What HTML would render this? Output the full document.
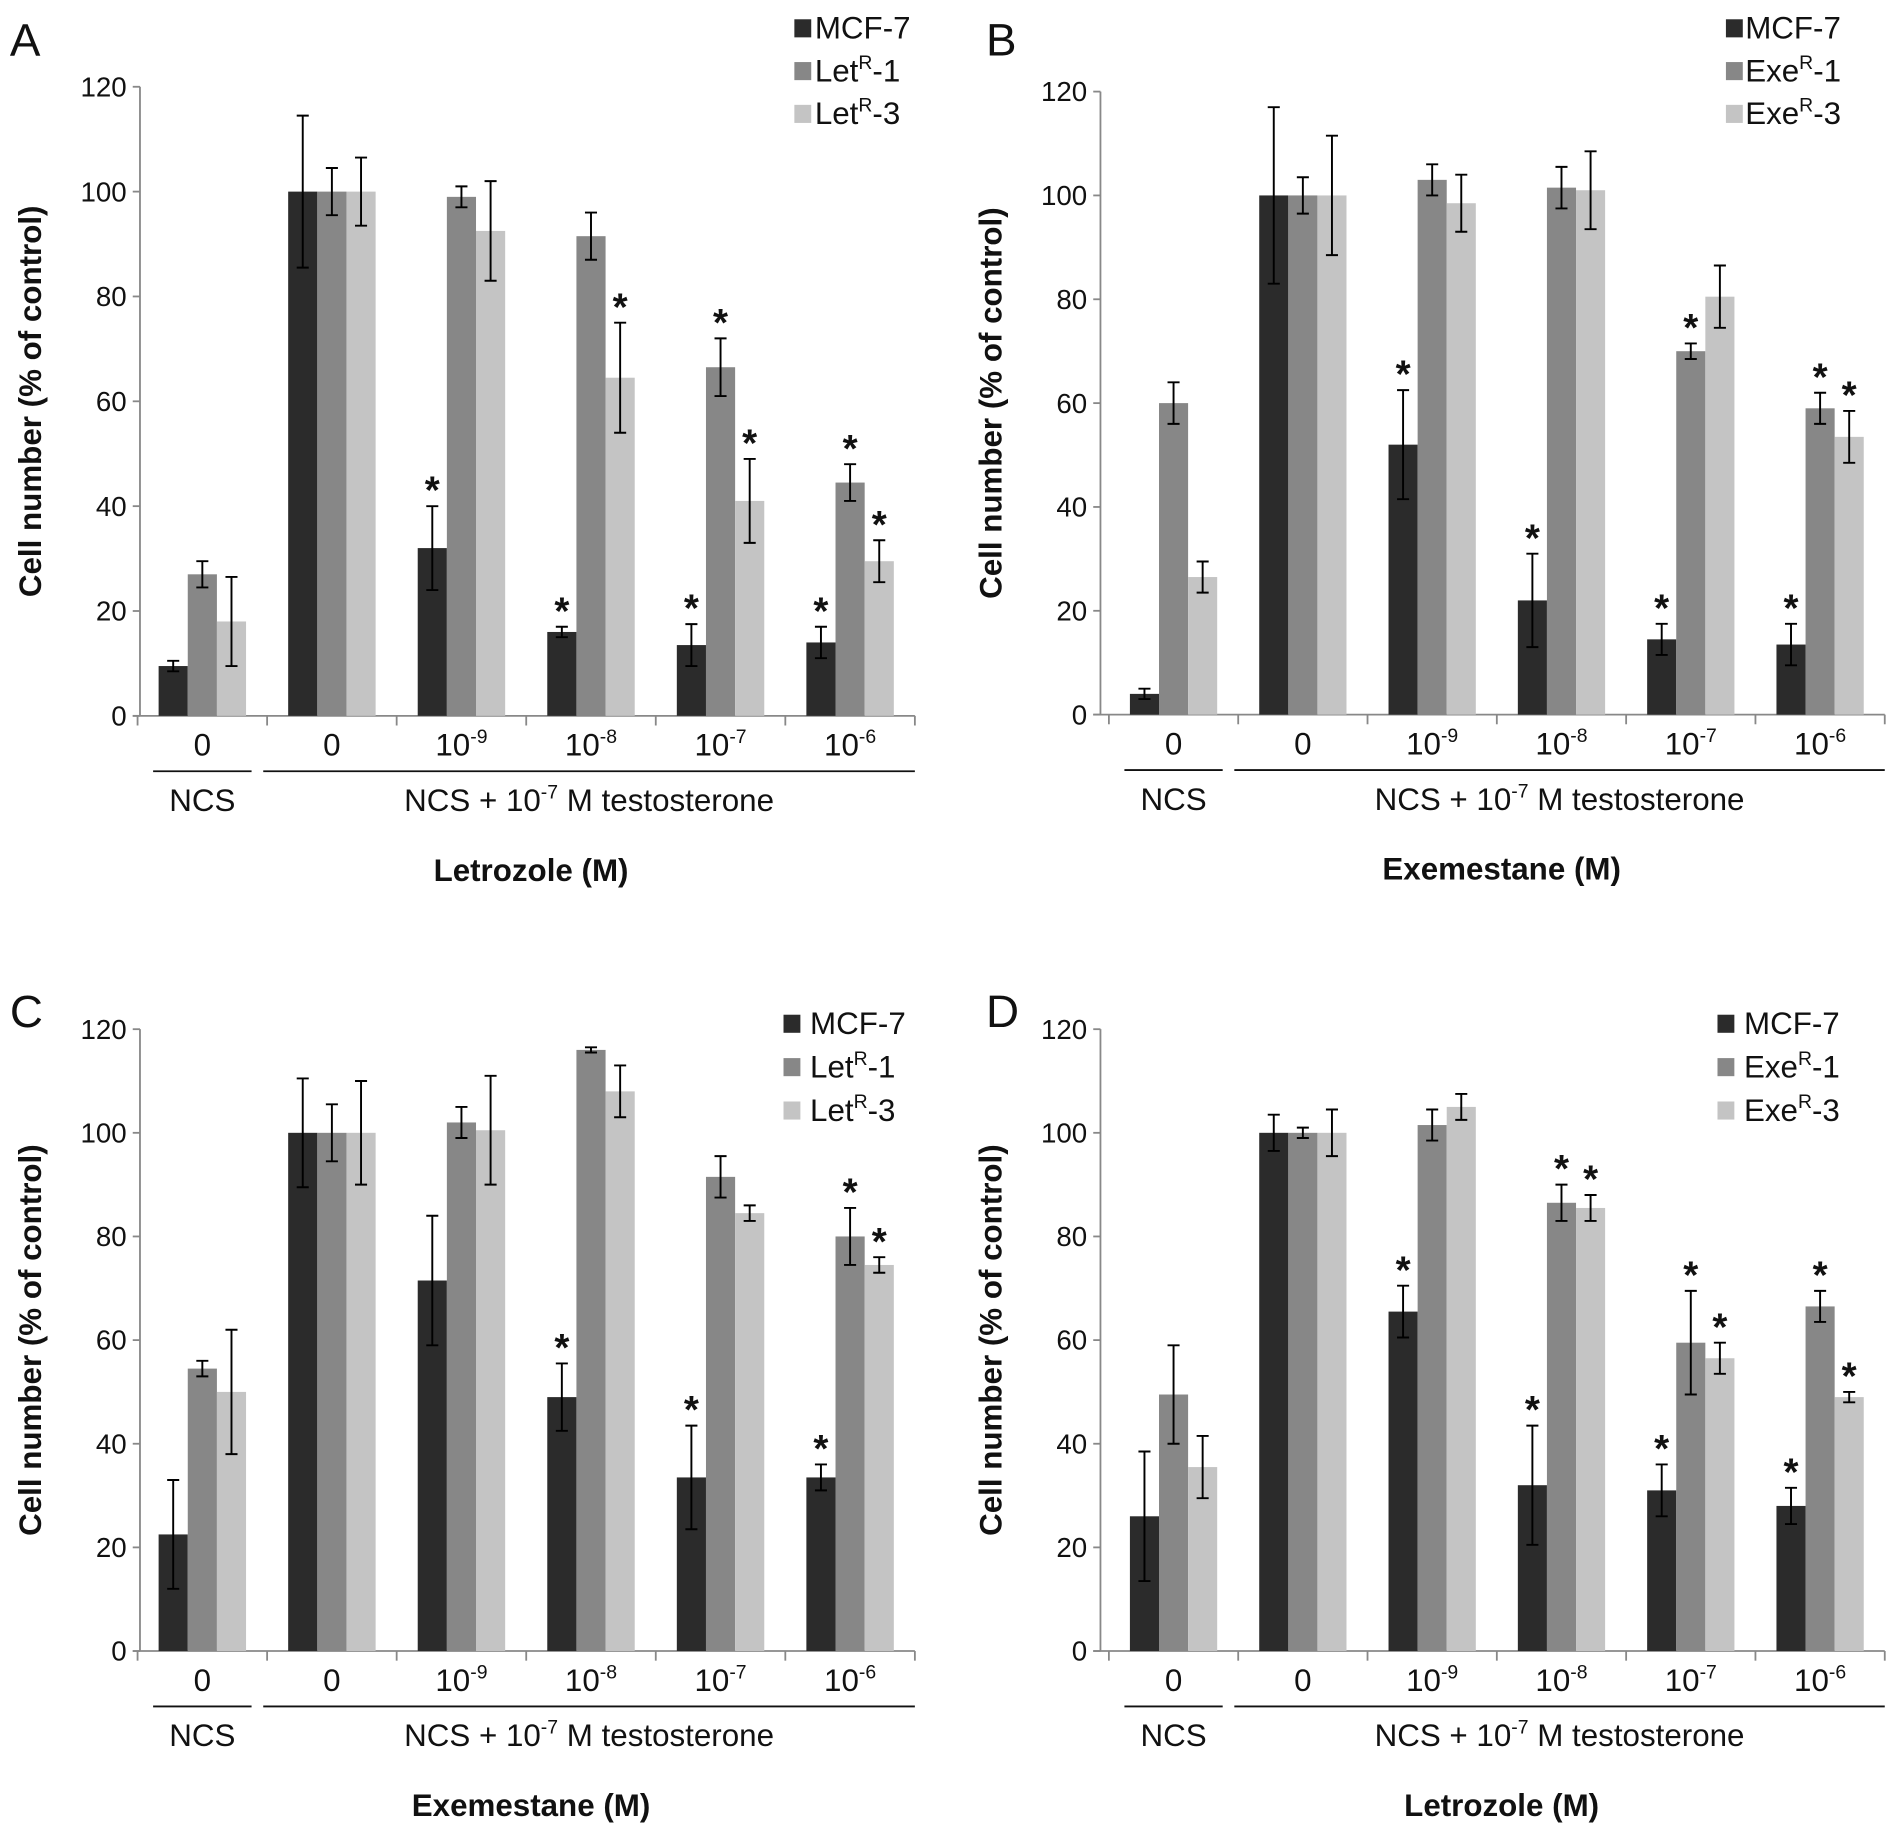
<!DOCTYPE html>
<html><head><meta charset="utf-8"><style>
html,body{margin:0;padding:0;background:#fff;}
svg{display:block;}
svg text{font-family:"Liberation Sans",Arial,sans-serif;}
</style></head><body>
<svg id="fig" width="1890" height="1833" viewBox="0 0 1568 1521" xmlns="http://www.w3.org/2000/svg" font-family="Liberation Sans, Arial, sans-serif"></svg>
<script>
// ----- data -----
const groupLabels = ["0","0","10|-9","10|-8","10|-7","10|-6"];
const yTicks = [0,20,40,60,80,100,120];
const colors = ["#2b2b2b","#878787","#c4c4c4"];

const aNames = ["MCF-7","Let|R|-1","Let|R|-3"];
const bNames = ["MCF-7","Exe|R|-1","Exe|R|-3"];

const aMcf = [9.5,100,32,16,13.5,14];
const aL1 = [27,100,99,91.5,66.5,44.5];
const aL3 = [18,100,92.5,64.5,41,29.5];
const aMcfErr = [1,14.5,8,1,4,3];
const aL1Err = [2.5,4.5,2,4.5,5.5,3.5];
const aL3Err = [8.5,6.5,9.5,10.5,8,4];
const aStars = [[0,0,0],[0,0,0],[1,0,0],[1,0,1],[1,1,1],[1,1,1]];

const bMcf = [4,100,52,22,14.5,13.5];
const bE1 = [60,100,103,101.5,70,59];
const bE3 = [26.5,100,98.5,101,80.5,53.5];
const bMcfErr = [1,17,10.5,9,3,4];
const bE1Err = [4,3.5,3,4,1.5,3];
const bE3Err = [3,11.5,5.5,7.5,6,5];
const bStars = [[0,0,0],[0,0,0],[1,0,0],[1,0,0],[1,1,0],[1,1,1]];

const cMcf = [22.5,100,71.5,49,33.5,33.5];
const cL1 = [54.5,100,102,116,91.5,80];
const cL3 = [50,100,100.5,108,84.5,74.5];
const cMcfErr = [10.5,10.5,12.5,6.5,10,2.5];
const cL1Err = [1.5,5.5,3,0.5,4,5.5];
const cL3Err = [12,10,10.5,5,1.5,1.5];
const cStars = [[0,0,0],[0,0,0],[0,0,0],[1,0,0],[1,0,0],[1,1,1]];

const dMcf = [26,100,65.5,32,31,28];
const dE1 = [49.5,100,101.5,86.5,59.5,66.5];
const dE3 = [35.5,100,105,85.5,56.5,49];
const dMcfErr = [12.5,3.5,5,11.5,5,3.5];
const dE1Err = [9.5,1,3,3.5,10,3];
const dE3Err = [6,4.5,2.5,2.5,3,1];
const dStars = [[0,0,0],[0,0,0],[1,0,0],[1,1,1],[1,1,1],[1,1,1]];

// ----- drawing -----
const NS="http://www.w3.org/2000/svg";
const svg=document.getElementById('fig');
const FF='"Liberation Sans", Arial, sans-serif';
function mk(tag,attrs,parent){const e=document.createElementNS(NS,tag);for(const k in attrs)e.setAttribute(k,attrs[k]);if(tag==='text')e.style.fontFamily=FF;(parent||svg).appendChild(e);return e;}
function supText(str,x,y,size,anchor,parent){
  const parts=str.split('|');
  const t=mk('text',{x:x,y:y,'font-size':size,'text-anchor':anchor||'middle',fill:'#111'},parent);
  const s1=mk('tspan',{},t);s1.textContent=parts[0];
  if(parts.length>1){const s2=mk('tspan',{dy:-size*0.4,'font-size':size*0.62},t);s2.textContent=parts[1];
    if(parts.length>2){const s3=mk('tspan',{dy:size*0.4},t);s3.textContent=parts[2];}}
  return t;
}
function panel(o){
  const g=mk('g',{});
  
  
  const yS=v=>o.y0-(v/120)*(o.y0-o.y120);
  const xC=i=>o.x0+o.gw*(i+0.5);
  const axEnd=o.x0+o.gw*6;
  const ya=mk('line',{x1:o.ax,y1:yS(0),x2:o.ax,y2:yS(120),stroke:'#888','stroke-width':1.5},g);
  
  const xa=mk('line',{x1:o.ax-6,y1:yS(0),x2:axEnd,y2:yS(0),stroke:'#888','stroke-width':1.5},g);
  
  yTicks.forEach(v=>{
    mk('line',{x1:o.ax-6,y1:yS(v),x2:o.ax,y2:yS(v),stroke:'#888','stroke-width':1.5},g);
    const t=mk('text',{x:o.ax-11,y:yS(v)+8,'font-size':23,'text-anchor':'end',fill:'#111'},g);
    t.textContent=v;
    
  });
  for(let i=0;i<=6;i++){mk('line',{x1:o.x0+o.gw*i,y1:yS(0),x2:o.x0+o.gw*i,y2:yS(0)+8,stroke:'#888','stroke-width':1.5},g);}
  const bw=o.gw*0.225;
  const vals=[o.s0,o.s1,o.s2], errs=[o.e0,o.e1,o.e2];
  for(let i=0;i<6;i++){
    for(let s=0;s<3;s++){
      const v=vals[s][i], e=errs[s][i];
      const x=xC(i)-1.5*bw+s*bw;
      const r=mk('rect',{x:x,y:yS(v),width:bw,height:yS(0)-yS(v),fill:colors[s]},g);
      
      const cx=x+bw/2;
      const eb=mk('path',{d:`M${cx},${yS(v+e)}V${yS(v-e)}M${cx-5},${yS(v+e)}H${cx+5}M${cx-5},${yS(v-e)}H${cx+5}`,stroke:'#000','stroke-width':1.6,fill:'none'},g);
      
      if(o.st[i][s]){
        const st=mk('text',{x:cx,y:yS(v+e)-2,'font-size':32,'font-weight':'bold','text-anchor':'middle',fill:'#111'},g);
        st.textContent='*';
        
      }
    }
    const lb=supText(groupLabels[i],xC(i),yS(0)+33,26,'middle',g);
    
  }
  const ly=yS(0)+46;
  mk('line',{x1:o.x0+o.gw*0.12,y1:ly,x2:o.x0+o.gw*0.88,y2:ly,stroke:'#111','stroke-width':1.5},g);
  mk('line',{x1:o.x0+o.gw*0.97,y1:ly,x2:axEnd,y2:ly,stroke:'#111','stroke-width':1.5},g);
  const n1=mk('text',{x:xC(0),y:ly+33,'font-size':26,'text-anchor':'middle',fill:'#111'},g);n1.textContent='NCS';
  
  const n2=supText('NCS + 10|-7| M testosterone',(o.x0+o.gw*0.97+axEnd)/2,ly+33,26,'middle',g);
  
  const xt=mk('text',{x:(o.x0+axEnd)/2+4,y:ly+91,'font-size':26,'font-weight':'bold','text-anchor':'middle',fill:'#111'},g);
  xt.textContent=o.xtitle;
  const yc=(yS(0)+yS(120))/2;
  const yt=mk('text',{x:o.ax-82,y:yc,'font-size':26,'font-weight':'bold','text-anchor':'middle',fill:'#111',transform:`rotate(-90 ${o.ax-82} ${yc})`},g);
  yt.textContent='Cell number (% of control)';
  const pl=mk('text',{x:o.lx,y:o.ly,'font-size':38,fill:'#111'},g);pl.textContent=o.letter;
  
  for(let s=0;s<3;s++){
    const yy=o.legY+s*o.legDy;
    const lg=mk('g',{},g);
    
    mk('rect',{x:o.legX,y:yy-16,width:14,height:15,fill:colors[s]},lg);
    supText(o.names[s],o.legX+o.legGap,yy,26,'start',lg);
  }
}
panel({name:'panel-a',letter:'A',lx:8,ly:46,x0:114,ax:116,gw:107.5,y0:594,y120:72,s0:aMcf,s1:aL1,s2:aL3,e0:aMcfErr,e1:aL1Err,e2:aL3Err,st:aStars,names:aNames,xtitle:'Letrozole (M)',legX:659,legY:32,legDy:35.5,legGap:17});
panel({name:'panel-b',letter:'B',lx:818,ly:46,x0:920,ax:913,gw:107.3,y0:593,y120:76,s0:bMcf,s1:bE1,s2:bE3,e0:bMcfErr,e1:bE1Err,e2:bE3Err,st:bStars,names:bNames,xtitle:'Exemestane (M)',legX:1432,legY:32,legDy:35.5,legGap:16});
panel({name:'panel-c',letter:'C',lx:8,ly:852,x0:114,ax:116,gw:107.5,y0:1370,y120:854,s0:cMcf,s1:cL1,s2:cL3,e0:cMcfErr,e1:cL1Err,e2:cL3Err,st:cStars,names:aNames,xtitle:'Exemestane (M)',legX:650,legY:858,legDy:36,legGap:22});
panel({name:'panel-d',letter:'D',lx:818,ly:852,x0:920,ax:913,gw:107.3,y0:1370,y120:854,s0:dMcf,s1:dE1,s2:dE3,e0:dMcfErr,e1:dE1Err,e2:dE3Err,st:dStars,names:bNames,xtitle:'Letrozole (M)',legX:1425,legY:858,legDy:36,legGap:22});
</script>
</body></html>
